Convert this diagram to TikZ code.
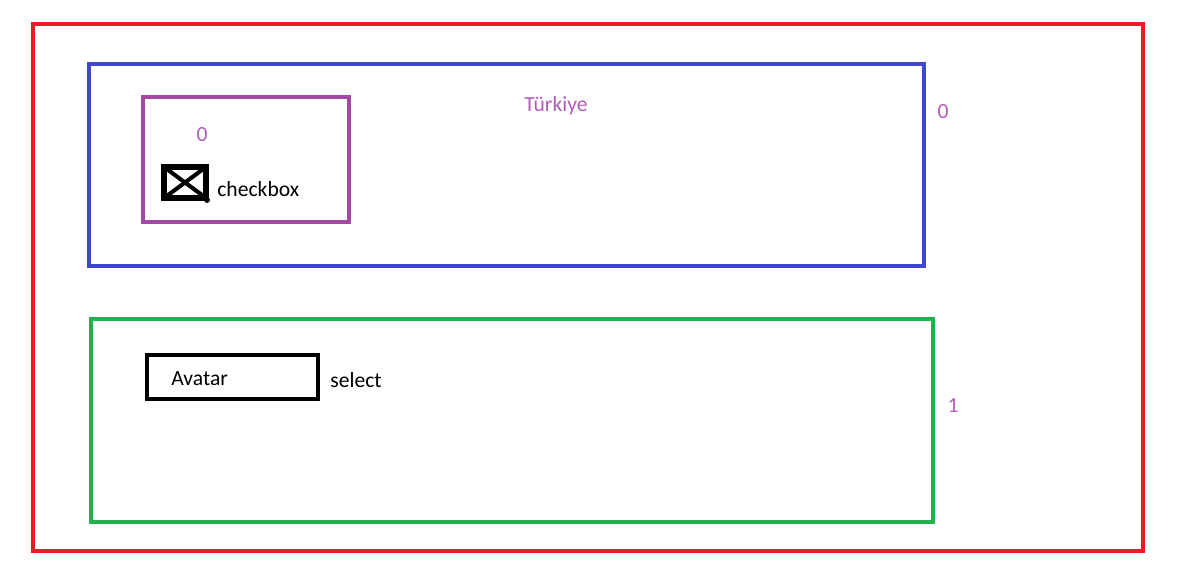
\documentclass[tikz,border=0pt]{standalone}
\usepackage{fontspec}
\setmainfont{Carlito}
\usepackage{tikz}
\definecolor{paintred}{RGB}{237,28,36}
\definecolor{paintblue}{RGB}{63,72,204}
\definecolor{paintpurple}{RGB}{163,73,164}
\definecolor{paintgreen}{RGB}{34,177,76}
\definecolor{labelpurple}{RGB}{178,92,186}
\tikzset{
	frame/.style={line width=2.3pt},
	lbl/.style={inner sep=0pt, font=\fontsize{12.3}{14}\selectfont},
	idx/.style={lbl, text=labelpurple}
}

\begin{document}
\begin{tikzpicture}[x=0.02cm, y=-0.02cm]
		%%%%% START %%%%%
		\useasboundingbox (0, 0) rectangle (1181, 573);
		
		\draw[frame, paintred] (33, 24) rectangle (1143, 551);
		
		\draw[frame, paintblue] (89, 64) rectangle (924, 266);
		\node[idx] (rowzero) at (943, 112) {0};
		\node[idx] (country) at (556, 106) {Türkiye};
		
		\draw[frame, paintpurple] (143, 97) rectangle (349, 222);
		\node[idx] (cellzero) at (202, 135) {0};
		
		\draw[line width=2.9pt] (164, 167) rectangle (206, 198);
		\draw[line width=2.3pt] (164, 167) -- (206, 198);
		\draw[line width=2.3pt] (164, 198) -- (206, 167);
		\draw[fill=black] (207, 200) circle (2.5);
		\node[lbl, anchor=west] (check) at (217, 189) {checkbox};
		
		\draw[frame, paintgreen] (91, 319) rectangle (933, 522);
		\node[idx] (rowone) at (953, 406) {1};
		
		\draw[frame] (147, 355) rectangle (318, 399);
		\node[lbl, anchor=west] (avatar) at (171, 379) {Avatar};
		\node[lbl, anchor=west] (sel) at (330, 380) {select};
		%%%%% END %%%%%
	\end{tikzpicture}
\end{document}
